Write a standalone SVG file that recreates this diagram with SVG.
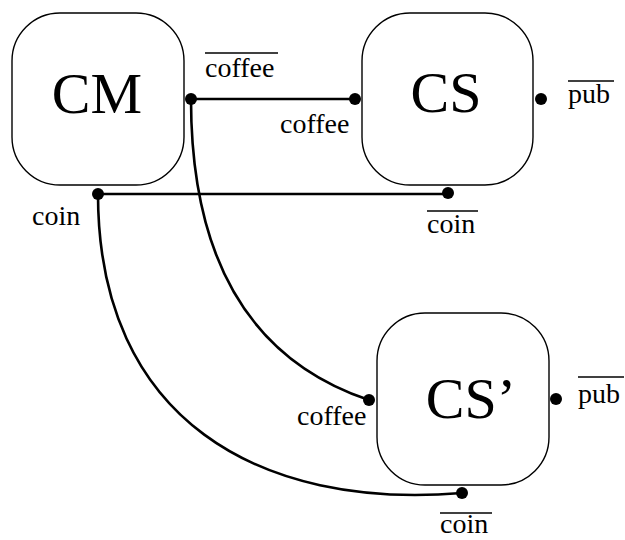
<svg xmlns="http://www.w3.org/2000/svg" width="625" height="540" viewBox="0 0 625 540">
  <defs>
    <circle id="port" r="6" fill="#000"/>
  </defs>

  <g id="connectors" fill="none" stroke="#000" stroke-width="2.6">
    <line x1="191" y1="99" x2="355" y2="99"/>
    <line x1="98" y1="194" x2="448" y2="194"/>
    <path d="M191,99 C191,260 250,360 369,400"/>
    <path d="M98,194 C98,420 260,510 462,493"/>
  </g>

  <g id="CM" font-family="Liberation Serif" fill="#000">
    <rect x="12" y="13" width="172" height="172" rx="48" ry="48" fill="#fff" stroke="#000" stroke-width="1.4"/>
    <text x="97" y="113" font-size="58" text-anchor="middle">CM</text>
    <use href="#port" x="191" y="99"/>
    <use href="#port" x="98" y="194"/>
    <text x="205" y="77" font-size="28">coffee</text>
    <line x1="205" y1="53" x2="278" y2="53" stroke="#000" stroke-width="1.3"/>
    <text x="32" y="225" font-size="28">coin</text>
  </g>

  <g id="CS" font-family="Liberation Serif" fill="#000">
    <rect x="362" y="13" width="171" height="172" rx="48" ry="48" fill="#fff" stroke="#000" stroke-width="1.4"/>
    <text x="446" y="112" font-size="58" text-anchor="middle">CS</text>
    <use href="#port" x="355" y="99"/>
    <use href="#port" x="541" y="99"/>
    <use href="#port" x="448" y="193"/>
    <text x="280" y="133" font-size="28">coffee</text>
    <text x="568" y="103" font-size="28">pub</text>
    <line x1="568" y1="81" x2="614" y2="81" stroke="#000" stroke-width="1.3"/>
    <text x="427" y="233" font-size="28">coin</text>
    <line x1="427" y1="211" x2="478" y2="211" stroke="#000" stroke-width="1.3"/>
  </g>

  <g id="CS-prime" font-family="Liberation Serif" fill="#000">
    <rect x="377" y="313" width="172" height="172" rx="48" ry="48" fill="#fff" stroke="#000" stroke-width="1.4"/>
    <text x="471" y="418" font-size="58" text-anchor="middle">CS&#8217;</text>
    <use href="#port" x="369" y="400"/>
    <use href="#port" x="556" y="399"/>
    <use href="#port" x="462" y="493"/>
    <text x="297" y="425" font-size="28">coffee</text>
    <text x="578" y="403" font-size="28">pub</text>
    <line x1="578" y1="377" x2="624" y2="377" stroke="#000" stroke-width="1.3"/>
    <text x="440" y="533" font-size="28">coin</text>
    <line x1="440" y1="513" x2="492" y2="513" stroke="#000" stroke-width="1.3"/>
  </g>
</svg>
